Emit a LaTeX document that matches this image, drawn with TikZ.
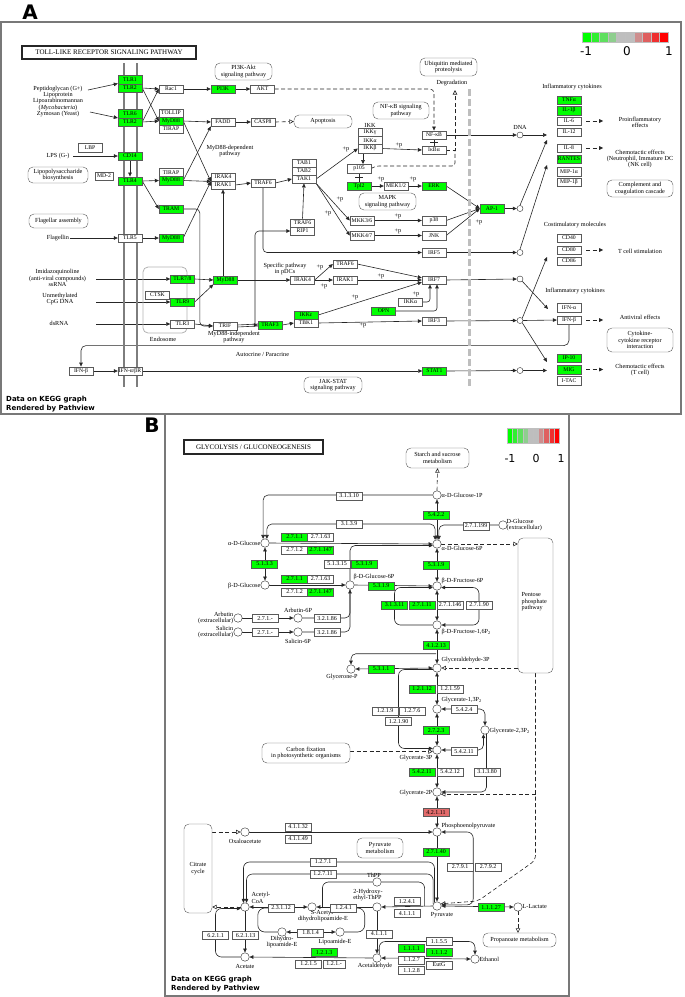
\documentclass[tikz,border=0pt]{standalone}
\usepackage{fontspec}
\setmainfont{Liberation Serif}
\newfontfamily\sansfont{DejaVu Sans}
\usetikzlibrary{arrows.meta,backgrounds,calc}

\definecolor{kgreen}{RGB}{0,255,0}
\definecolor{kred}{RGB}{226,106,106}
\definecolor{kgray}{RGB}{190,190,190}
\definecolor{kmem}{RGB}{125,125,125}
\definecolor{kframe}{RGB}{120,120,120}
\definecolor{kbox}{RGB}{90,90,90}
\colorlet{kg2}{kgreen!75!kgray}
\colorlet{kg3}{kgreen!50!kgray}
\colorlet{kg4}{kgreen!25!kgray}
\colorlet{kr4}{red!25!kgray}
\colorlet{kr3}{red!50!kgray}
\colorlet{kr2}{red!75!kgray}

\newcommand{\fgene}{\fontsize{5.7}{6.2}\selectfont}
\newcommand{\flab}{\fontsize{6.2}{6.3}\selectfont}
\newcommand{\fec}{\fontsize{6}{6.5}\selectfont}

\tikzstyle{gene}=[draw=kbox, fill=white, minimum width=24pt, minimum height=8.5pt, inner sep=0.3pt, font=\fgene]
\tikzstyle{hit}=[gene, fill=kgreen]
\tikzstyle{ec}=[draw=kbox, fill=white, minimum width=26pt, minimum height=8pt, inner sep=0.3pt, font=\fec]
\tikzstyle{echit}=[ec, fill=kgreen]
\tikzstyle{ecred}=[ec, fill=kred]
\tikzstyle{cpd}=[circle, draw=black!85, fill=white, minimum size=6pt, inner sep=0pt]
\tikzstyle{cpdb}=[cpd, minimum size=8.5pt]
\tikzstyle{pw}=[draw=kbox, fill=white, rounded corners=5pt, align=center, font=\flab, inner sep=1pt]
\tikzstyle{lab}=[font=\flab, align=center, inner sep=0.5pt]
\tikzstyle{plusp}=[font=\flab, inner sep=0pt]
\tikzstyle{maptitle}=[draw=black!85, line width=1.2pt, fill=white, inner sep=0pt, font=\fontsize{7}{8}\selectfont]
\tikzstyle{datatxt}=[font=\sansfont\bfseries\fontsize{7}{8.5}\selectfont, align=left, anchor=north west, inner sep=0pt]
\tikzstyle{tag}=[font=\sansfont\bfseries\fontsize{20}{20}\selectfont, inner sep=0pt]
\tikzstyle{ln}=[draw=black!85, line width=0.6pt]
\tikzstyle{dashln}=[ln, dash pattern=on 4pt off 2.5pt]
\tikzstyle{ar}=[ln, -{Triangle[length=4pt,width=3.6pt]}]
\tikzstyle{arr2}=[ln, {Triangle[length=4pt,width=3.6pt]}-{Triangle[length=4pt,width=3.6pt]}]
\tikzstyle{dashar}=[dashln, -{Triangle[length=4pt,width=3.6pt]}]
\tikzstyle{openar}=[dashln, -{Triangle[open,length=4.5pt,width=4.5pt]}]

\begin{document}
\begin{tikzpicture}[x=1pt,y=-1pt]
\useasboundingbox (0,0) rectangle (685,997);

% panel A
\node[tag] (tagA) at (30,12) {A};
\draw[kframe, line width=1.3pt] (1,22) rectangle (681,414);
\node[maptitle, minimum width=174pt, minimum height=13pt] (titleA) at (109,52.5) {TOLL-LIKE RECEPTOR SIGNALING PATHWAY};
\foreach \col [count=\i from 0] in {kgreen,kg2,kg3,kg4,kgray,kgray,kr4,kr3,kr2,red}
  \filldraw[fill=\col, draw=white!75!black, line width=0.2pt] (582+8.6*\i,32) rectangle ++(8.6,10);
\node[font=\sansfont\fontsize{12}{12}\selectfont] (legAa) at (586,51) {-1};
\node[font=\sansfont\fontsize{12}{12}\selectfont] (legAb) at (627,51) {0};
\node[font=\sansfont\fontsize{12}{12}\selectfont] (legAc) at (669,51) {1};

\draw[kmem, line width=2.2pt] (124,63) -- (124,387);
\draw[kmem, line width=2.2pt] (137,63) -- (137,387);
\draw[kgray, line width=3pt, dash pattern=on 7pt off 3pt] (469,89) -- (469,387);
\draw[gray!60, rounded corners=5pt, line width=0.8pt] (143,267) rectangle (187,333);

\node[lab] (ligA) at (58,101.5) {Peptidoglycan (G+)\\Lipoprotein\\Lipoarabinomannan\\(\textit{Mycobacteria})\\Zymosan (Yeast)};
\coordinate (lig1) at (88,90);
\coordinate (lig2) at (90,112);
\node[gene] (lbp) at (90,147.5) {LBP};
\node[lab] (lps) at (58,156) {LPS (G-)};
\coordinate (lpsend) at (73,156);
\node[pw, minimum width=60pt, minimum height=16pt] (lpsbio) at (58,175) {Lipopolysaccharide\\biosynthesis};
\node[gene, minimum width=18pt] (md2) at (104,176) {MD-2};
\node[pw, minimum width=59pt, minimum height=14pt] (flagpw) at (58.5,221) {Flagellar assembly};
\node[lab] (flagellin) at (58,238) {Flagellin};
\node[lab] (imid) at (57.5,278) {Imidazoquinoline\\(anti-viral compounds)\\ssRNA};
\node[lab] (cpg) at (60,299) {Unmethylated\\CpG DNA};
\node[lab] (dsrna) at (59,323) {dsRNA};
\coordinate (imidend) at (96,279);
\coordinate (cpgend) at (96,302);
\coordinate (dsend) at (96,324);

\node[hit] (tlr1) at (130,79.5) {TLR1};
\node[hit] (tlr2a) at (130,88) {TLR2};
\node[hit] (tlr6) at (130,113.5) {TLR6};
\node[hit] (tlr2b) at (130,122) {TLR2};
\node[hit] (cd14) at (130,156) {CD14};
\node[hit] (tlr4) at (130,181) {TLR4};
\node[gene] (tlr5) at (130,238) {TLR5};
\node[gene] (ifnar) at (130,371) {IFN-α/βR};
\node[gene] (ifnb1) at (81,371) {IFN-β};

\node[gene] (rac1) at (171,89) {Rac1};
\node[gene] (tollip) at (171,113) {TOLLIP};
\node[hit] (myd88a) at (171,121) {MyD88};
\node[gene] (tirapa) at (171,129) {TIRAP};
\node[gene] (tirapb) at (171,172.5) {TIRAP};
\node[hit] (myd88b) at (171,180.5) {MyD88};
\node[hit] (tram) at (171,209) {TRAM};
\node[hit] (myd88c) at (171,238) {MyD88};
\node[hit] (pi3k) at (223,89) {PI3K};
\node[gene] (akt) at (262.5,89) {AKT};
\node[gene] (fadd) at (223,122) {FADD};
\node[gene] (casp8) at (263,122) {CASP8};
\node[pw, minimum width=57pt, minimum height=17pt] (pi3kpw) at (243.5,71.5) {PI3K-Akt\\signaling pathway};
\node[pw, minimum width=58pt, minimum height=13pt] (apop) at (323,121.5) {Apoptosis};
\node[lab] (mydep) at (230,151) {MyD88-dependent\\pathway};
\node[gene] (irak4a) at (223,177) {IRAK4};
\node[gene] (irak1a) at (223,185) {IRAK1};
\node[gene] (traf6a) at (263,183) {TRAF6};
\node[gene] (tab1) at (304,163) {TAB1};
\node[gene] (tab2) at (304,171) {TAB2};
\node[gene] (tak1) at (304,179) {TAK1};
\node[lab] (ikklab) at (370,125) {IKK};
\node[gene] (ikkg) at (370,132.5) {IKKγ};
\node[gene] (ikka) at (370,140.5) {IKKα};
\node[gene] (ikkb) at (370,148.5) {IKKβ};
\node[pw, minimum width=56pt, minimum height=17pt] (nfkbpw) at (401,110.5) {NF-κB signaling\\pathway};
\node[pw, minimum width=57pt, minimum height=18pt] (ubiq) at (448.5,67) {Ubiquitin mediated\\proteolysis};
\node[lab] (degr) at (452,83) {Degradation};
\coordinate (degtop) at (455,90);
\node[gene] (nfkb) at (434,135) {NF-κB};
\node[gene] (ikba) at (434,150) {IκBα};
\node[gene] (p105) at (359,168.5) {p105};
\node[hit] (tpl2) at (359,186) {Tpl2};
\node[gene] (mek) at (396,186) {MEK1/2};
\node[hit] (erk) at (434,186) {ERK};
\node[pw, minimum width=57pt, minimum height=17pt] (mapkpw) at (387.5,201.5) {MAPK\\signaling pathway};
\node[gene] (mkk36) at (362,220.5) {MKK3/6};
\node[gene] (mkk47) at (362,235.5) {MKK4/7};
\node[gene] (p38) at (434,220.5) {p38};
\node[gene] (jnk) at (434,235.5) {JNK};
\node[hit] (ap1) at (492,208.5) {AP-1};
\node[gene] (irf5) at (434,252.5) {IRF5};
\node[gene] (traf6b) at (302.5,223) {TRAF6};
\node[gene] (rip1) at (302.5,231) {RIP1};
\node[lab] (pdc) at (285,269) {Specific pathway\\in pDCs};
\node[gene] (irak4b) at (302.5,280) {IRAK4};
\node[gene] (traf6c) at (345,264) {TRAF6};
\node[gene] (irak1b) at (345,280) {IRAK1};
\node[gene] (irf7) at (434,280) {IRF7};
\node[gene] (ikka2) at (410.5,302) {IKKα};
\node[hit] (opn) at (383.5,311) {OPN};
\node[hit] (ikke) at (306,315) {IKKε};
\node[gene] (tbk1) at (306,323) {TBK1};
\node[hit] (traf3) at (270,325) {TRAF3};
\node[gene] (irf3) at (434,321) {IRF3};
\node[gene] (trif) at (225,326) {TRIF};
\coordinate (trifup) at (255,326);
\node[lab] (myind) at (234,337) {MyD88-independent\\pathway};
\node[hit] (myd88d) at (225.5,280) {MyD88};
\node[lab] (endo) at (163,339) {Endosome};
\node[hit] (tlr78) at (182.5,279) {TLR7/8};
\node[gene] (ctsk) at (157.5,295) {CTSK};
\node[hit] (tlr9) at (182.5,302) {TLR9};
\node[gene] (tlr3) at (182.5,324) {TLR3};
\node[hit] (stat1) at (434.5,371) {STAT1};
\node[lab] (autocr) at (262.5,354) {Autocrine / Paracrine};
\node[pw, minimum width=58pt, minimum height=16pt] (jakstat) at (333,385) {JAK-STAT\\signaling pathway};

\node[lab] (infcyt1) at (572,87) {Inflammatory cytokines};
\node[hit] (tnfa) at (569,100) {TNFα};
\node[hit] (il1b) at (569,110.5) {IL-1β};
\node[gene] (il6) at (569,121) {IL-6};
\node[gene] (il12) at (569,132) {IL-12};
\node[gene] (il8) at (569,148) {IL-8};
\node[hit] (rantes) at (569,159) {RANTES};
\node[gene] (mip1a) at (569,171.5) {MIP-1α};
\node[gene] (mip1b) at (569,182) {MIP-1β};
\node[lab] (proinf) at (640,122) {Proinflammatory\\effects};
\node[lab] (chemo1) at (640,159) {Chemotactic effects\\(Neutrophil, Immature DC\\(NK cell)};
\node[pw, minimum width=66pt, minimum height=17pt] (compl) at (640,188.5) {Complement and\\coagulation cascade};
\node[lab] (costim) at (575,225) {Costimulatory molecules};
\node[gene] (cd40) at (569,238) {CD40};
\node[gene] (cd80) at (569,250) {CD80};
\node[gene] (cd86) at (569,261) {CD86};
\node[lab] (tcell) at (640,251) {T cell stimulation};
\node[lab] (infcyt2) at (575,291) {Inflammatory cytokines};
\node[gene] (ifna) at (569,307.5) {IFN-α};
\node[gene] (ifnb2) at (569,320) {IFN-β};
\node[lab] (antiv) at (640,317) {Antiviral effects};
\node[pw, minimum width=66pt, minimum height=24pt] (cytok) at (640,340) {Cytokine-\\cytokine receptor\\interaction};
\node[hit] (ip10) at (569,358) {IP-10};
\node[hit] (mig) at (569,369.5) {MIG};
\node[gene] (itac) at (569,380.5) {I-TAC};
\node[lab] (chemo2) at (640,370) {Chemotactic effects\\(T cell)};
\node[lab] (dnalab) at (520,127) {DNA};
\node[cpd] (cdna) at (520,135) {};
\node[cpd] (cap1) at (520,208.5) {};
\node[cpd] (cirf5) at (520,252.5) {};
\node[cpd] (cirf7) at (520,279) {};
\node[cpd] (cirf3) at (520,320.5) {};
\node[cpd] (cstat) at (520,370.5) {};
\coordinate (tgt1) at (547,135);
\coordinate (tgt2) at (547,140);
\coordinate (tgt3) at (547,165);
\coordinate (tgt4) at (547,257);
\coordinate (tgt5) at (548,309);
\coordinate (tgt6) at (547,362);
\coordinate (tgt7) at (547,370.5);

\node[plusp] (pp1) at (346,149) {+p};
\node[plusp] (pp2) at (399,145) {+p};
\node[plusp] (pp3) at (381,179) {+p};
\node[plusp] (pp4) at (413,179) {+p};
\node[plusp] (pp5) at (340,199) {+p};
\node[plusp] (pp6) at (328,213) {+p};
\node[plusp] (pp7) at (398,216) {+p};
\node[plusp] (pp8) at (398,231) {+p};
\node[plusp] (pp9) at (479,222) {+p};
\node[plusp] (pp10) at (320,267) {+p};
\node[plusp] (pp11) at (324,286) {+p};
\node[plusp] (pp12) at (381,276) {+p};
\node[plusp] (pp13) at (416,294) {+p};
\node[plusp] (pp14) at (355,297) {+p};
\node[plusp] (pp15) at (363,325) {+p};
\node[datatxt] (dataA) at (6,396) {Data on KEGG graph\\Rendered by Pathview};

\begin{scope}[on background layer]
\draw[ar] (lig1) -- (tlr2a.north west);
\draw[ar] (lig2) -- (tlr6.south west);
\draw[ar] (lpsend) -- (cd14.west);
\draw[ar] (cd14.south) -- (tlr4.north);
\draw[ar] (flagellin.east) -- (tlr5.west);
\draw[ar] (imidend) -- (tlr78.west);
\draw[ar] (cpgend) -- (tlr9.west);
\draw[ar] (dsend) -- (tlr3.west);
\draw[ar] (tlr2a.east) -- (rac1.west);
\draw[ar] (tlr2a.east) -- (myd88a.west);
\draw[ar] (tlr2b.east) -- (rac1.west);
\draw[ar] (tlr2b.east) -- (myd88a.west);
\draw[ar] (tlr4.east) -- (myd88b.west);
\draw[ar] (tlr4.east) -- (tram.west);
\draw[ar] (tlr5.east) -- (myd88c.west);
\draw[ar] (rac1.east) -- (pi3k.west);
\draw[ar] (pi3k.east) -- (akt.west);
\draw[dashar, rounded corners=4] (akt.east) -| (nfkb.north);
\draw[ar] (myd88a.east) -- (fadd.west);
\draw[ar] (fadd.east) -- (casp8.west);
\draw[openar] (casp8.east) -- (apop.west);
\draw[ar] (myd88a.east) -- (irak4a.south west);
\draw[ar] (myd88b.east) -- (fadd.south west);
\draw[ar] (myd88b.east) -- (irak4a.south west);
\draw[ar] (myd88c.east) -- (irak4a.south west);
\draw[ar] (irak1a.east) -- (traf6a.west);
\draw[ar] (traf6a.east) -- (tak1.west);
\draw[ar] (tak1.east) -- (ikkb.west);
\draw[ar] (tak1.south east) -- (mkk36.west);
\draw[ar] (tak1.south east) -- (mkk47.west);
\draw[ar] (mkk36.east) -- (p38.west);
\draw[ar] (mkk47.east) -- (jnk.west);
\draw[ar] (ikkb.east) -- (ikba.west);
\draw[ar] ([xshift=-7]ikkb.south) -- ([xshift=4]p105.north);
\draw[ln] (p105.south) -- (tpl2.north);
\draw[ln] ($(p105.south)!0.5!(tpl2.north)+(-4,0)$) -- ++(8,0);
\draw[ln] (nfkb.south) -- (ikba.north);
\draw[ln] ($(nfkb.south)!0.5!(ikba.north)+(-4,0)$) -- ++(8,0);
\draw[ar] (tpl2.east) -- (mek.west);
\draw[ar] (mek.east) -- (erk.west);
\draw[dashln, rounded corners=3] (p105.east) -- (376,166) -- (455,166) -- (455,150);
\draw[openar] (ikba.east) -| (degtop);
\draw[ar] (traf6b.north) -- (tak1.south);
\draw[ar, rounded corners=4] (traf6a.south) |- (irf5.west);
\draw[ln] ([yshift=1]trif.east) -- ([yshift=1]traf3.west);
\draw[ln] ([yshift=-1]trif.east) -- ([yshift=-1]traf3.west);
\draw[ar] ([xshift=-4]traf3.west) -- (traf3.west);
\draw[ar, rounded corners=4] (trifup) |- (rip1.west);
\draw[ar] (traf3.east) -- (tbk1.west);
\draw[ar] (myd88d.east) -- (irak4b.west);
\draw[ar] (irak1a.south |- myd88d.east) -- (irak1a.south);
\draw[ar] (tlr78.east) -- (myd88d.west);
\draw[ar] (tlr9.east) -- (myd88d.south west);
\draw[ar] (tlr3.east) -- (trif.west);
\draw[ar, rounded corners=4] (tram.east) -| ([xshift=-13]trif.west) -- (trif.west);
\draw[ar] (irak4b.east) -- (traf6c.west);
\draw[ar] (irak4b.east) -- (irak1b.west);
\draw[ar] (traf6c.east) -- (irf7.170);
\draw[ar] (irak1b.east) -- (irf7.west);
\draw[ar] (ikke.east) -- (irf7.190);
\draw[ar, rounded corners=3] (ikka2.east) -| ([xshift=-4]irf7.south);
\draw[ar, rounded corners=3] (opn.east) -| ([xshift=3]irf7.south);
\draw[ar] (tbk1.east) -- (irf3.west);
\draw[ar] (nfkb.east) -- (cdna.west);
\draw[ar] (cdna.east) -- (tgt1);
\draw[ar] (erk.east) -- (ap1.west);
\draw[ar] (p38.east) -- (ap1.west);
\draw[ar] (jnk.east) -- (ap1.west);
\draw[ar] (ap1.east) -- (cap1.west);
\draw[ar] (cap1.north) -- (tgt2);
\draw[ar] (irf5.east) -- (cirf5.west);
\draw[ar] (cirf5.north) -- (tgt3);
\draw[ar] (irf7.east) -- (cirf7.west);
\draw[ar] (cirf7.south east) -- (tgt5);
\draw[ar] (irf3.east) -- (cirf3.west);
\draw[ar] (cirf3.east) -- (ifnb2.west);
\draw[ar] (cirf3.north east) -- (tgt4);
\draw[ar] (cirf3.south east) -- (tgt6);
\draw[ar] (stat1.east) -- (cstat.west);
\draw[ar] (cstat.east) -- (tgt7);
\draw[ar] (ifnb1.east) -- (ifnar.west);
\draw[ar] (ifnar.east) -- (stat1.west);
\draw[ar, rounded corners=5] (ifnb2.south) |- ([yshift=21]ifnb1.north) -- (ifnb1.north);
\draw[dashar] ([xshift=5]il6.east) -- ([xshift=22]il6.east);
\draw[dashar] ([xshift=5]il8.east) -- ([xshift=22]il8.east);
\draw[dashar] ([xshift=5]cd80.east) -- ([xshift=22]cd80.east);
\draw[dashar] ([xshift=5]ifnb2.east) -- ([xshift=22]ifnb2.east);
\draw[dashar] ([xshift=5]mig.east) -- ([xshift=22]mig.east);
\end{scope}

% panel B
\node[tag] (tagB) at (152,425) {B};
\draw[kframe, line width=1.3pt] (165,414) rectangle (569,996);
\node[maptitle, minimum width=139pt, minimum height=14pt] (titleB) at (253.5,447) {GLYCOLYSIS / GLUCONEOGENESIS};
\foreach \col [count=\i from 0] in {kgreen,kg2,kg3,kg4,kgray,kgray,kr4,kr3,kr2,red}
  \filldraw[fill=\col, draw=white!75!black, line width=0.2pt] (507+5.2*\i,428) rectangle ++(5.2,15);
\node[font=\sansfont\fontsize{11}{11}\selectfont] (legBa) at (510,458) {-1};
\node[font=\sansfont\fontsize{11}{11}\selectfont] (legBb) at (536,458) {0};
\node[font=\sansfont\fontsize{11}{11}\selectfont] (legBc) at (561,458) {1};

\node[pw, minimum width=63pt, minimum height=20pt] (starch) at (437.5,458) {Starch and sucrose\\metabolism};
\node[cpdb] (g1p) at (437,495) {};
\node[lab, anchor=west] (tg1p) at (441,495.5) {α-D-Glucose-1P};
\node[echit] (e5422) at (436,515) {5.4.2.2};
\node[ec] (e31310) at (349,496) {3.1.3.10};
\node[ec] (e3139) at (349,524) {3.1.3.9};
\node[cpdb] (g6p) at (437,544) {};
\node[lab, anchor=west] (tg6p) at (441,548) {α-D-Glucose-6P};
\node[ec] (e271199) at (476,526) {2.7.1.199};
\node[cpdb] (dglc) at (503,525) {};
\node[lab, anchor=west, align=left] (tdglc) at (506,525) {D-Glucose\\(extracellular)};
\node[pw, minimum width=35pt, minimum height=135pt] (pentose) at (535.5,605.5) {};
\node[lab, anchor=north west, align=left] (tpent) at (521,592) {Pentose\\phosphate\\pathway};
\node[cpdb] (aglc) at (265,543) {};
\node[lab, anchor=east] (taglc) at (261,543) {α-D-Glucose};
\node[echit] (e2711a) at (294.5,537) {2.7.1.1};
\node[ec] (e27163a) at (320.5,537) {2.7.1.63};
\node[ec] (e2712a) at (294.5,550) {2.7.1.2};
\node[echit] (e271147a) at (320.5,550) {2.7.1.147};
\node[echit] (e5133) at (264.5,564) {5.1.3.3};
\node[cpdb] (bglc) at (265,585) {};
\node[lab, anchor=east] (tbglc) at (261,586) {β-D-Glucose};
\node[echit] (e2711b) at (294.5,579) {2.7.1.1};
\node[ec] (e27163b) at (320.5,579) {2.7.1.63};
\node[ec] (e2712b) at (294.5,592) {2.7.1.2};
\node[echit] (e271147b) at (320.5,592) {2.7.1.147};
\node[ec] (e51315) at (337,564) {5.1.3.15};
\node[echit] (e5319a) at (364,564) {5.3.1.9};
\node[cpdb] (bg6p) at (350,585) {};
\node[lab, anchor=west] (tbg6p) at (353,577) {β-D-Glucose-6P};
\node[echit] (e5319b) at (381,586) {5.3.1.9};
\node[echit] (e5319c) at (436,565) {5.3.1.9};
\node[cpdb] (bf6p) at (437,586) {};
\node[lab, anchor=west] (tbf6p) at (441,581) {β-D-Fructose-6P};
\node[cpdb] (arb) at (238,618) {};
\node[lab, anchor=east, align=right] (tarb) at (234,618) {Arbutin\\(extracellular)};
\node[ec] (e271xa) at (265,618.5) {2.7.1.-};
\node[cpdb] (arb6p) at (298,618) {};
\node[lab] (tarb6p) at (298,610) {Arbutin-6P};
\node[ec] (e32186a) at (327,618.5) {3.2.1.86};
\node[cpdb] (sal) at (238,632) {};
\node[lab, anchor=east, align=right] (tsal) at (234,632) {Salicin\\(extracellular)};
\node[ec] (e271xb) at (265,632.5) {2.7.1.-};
\node[cpdb] (sal6p) at (298,632) {};
\node[lab] (tsal6p) at (298,641) {Salicin-6P};
\node[ec] (e32186b) at (327,632.5) {3.2.1.86};
\node[echit] (e31311) at (394.5,605) {3.1.3.11};
\node[echit] (e27111) at (422,605) {2.7.1.11};
\node[ec] (e271146) at (450,605) {2.7.1.146};
\node[ec] (e27190) at (479,605) {2.7.1.90};
\node[cpdb] (fbp) at (437,625) {};
\node[lab, anchor=west] (tfbp) at (441,632) {β-D-Fructose-1,6P\textsubscript{2}};
\node[echit] (e41213) at (436,645.5) {4.1.2.13};
\node[cpdb] (gap) at (437,668) {};
\node[lab, anchor=west] (tgap) at (441,660) {Glyceraldehyde-3P};
\node[cpdb] (dhap) at (351,669) {};
\node[lab] (tdhap) at (342,677) {Glycerone-P};
\node[echit] (e5311) at (381,669) {5.3.1.1};
\node[echit] (e12112) at (422,689) {1.2.1.12};
\node[ec] (e12159) at (450,689) {1.2.1.59};
\node[ec] (e1219) at (385,711) {1.2.1.9};
\node[ec] (e1276) at (412,711) {1.2.7.6};
\node[ec] (e12190) at (398.5,721.5) {1.2.1.90};
\node[cpdb] (bpg13) at (437,709) {};
\node[lab, anchor=west] (tbpg13) at (441,700) {Glycerate-1,3P\textsubscript{2}};
\node[ec] (e5424) at (464,709.5) {5.4.2.4};
\node[cpdb] (bpg23) at (485,730) {};
\node[lab, anchor=west] (tbpg23) at (489,731) {Glycerate-2,3P\textsubscript{2}};
\node[echit] (e2723) at (436,730.5) {2.7.2.3};
\node[cpdb] (pg3) at (437,750) {};
\node[lab, anchor=east] (tpg3) at (433,758) {Glycerate-3P};
\node[ec] (e54211a) at (464,751.5) {5.4.2.11};
\node[pw, minimum width=88pt, minimum height=20pt] (carbon) at (306,753) {Carbon fixation\\in photosynthetic organisms};
\node[echit] (e54211b) at (422,772) {5.4.2.11};
\node[ec] (e54212) at (450,772) {5.4.2.12};
\node[ec] (e31380) at (487,772) {3.1.3.80};
\node[cpdb] (pg2) at (437,792) {};
\node[lab, anchor=east] (tpg2) at (433,793) {Glycerate-2P};
\node[ecred] (e42111) at (436,812.5) {4.2.1.11};
\node[cpdb] (pep) at (437,832) {};
\node[lab, anchor=west] (tpep) at (441,826) {Phosphoenolpyruvate};
\node[echit] (e27140) at (436,852) {2.7.1.40};
\node[ec] (e2791) at (460,867) {2.7.9.1};
\node[ec] (e2792) at (488,867) {2.7.9.2};
\node[cpdb] (pyr) at (437,906) {};
\node[lab] (tpyr) at (442,915) {Pyruvate};
\node[echit] (e11127) at (491,907.5) {1.1.1.27};
\node[cpdb] (lac) at (518,907) {};
\node[lab, anchor=west] (tlac) at (522,906) {L-Lactate};
\node[pw, minimum width=73pt, minimum height=14pt] (propan) at (519.5,940) {Propanoate metabolism};
\node[pw, minimum width=28pt, minimum height=89pt] (citrate) at (198,868.5) {Citrate\\cycle};
\node[cpdb] (oaa) at (245,832) {};
\node[lab] (toaa) at (245,841) {Oxaloacetate};
\node[ec] (e41132) at (298,827) {4.1.1.32};
\node[ec] (e41149) at (298,839) {4.1.1.49};
\node[pw, minimum width=46pt, minimum height=20pt] (pyrmet) at (380,848) {Pyruvate\\metabolism};
\node[ec] (e1271) at (323,862) {1.2.7.1};
\node[ec] (e12711) at (323,874) {1.2.7.11};
\node[cpdb] (accoa) at (245,907) {};
\node[lab, anchor=west, align=left] (taccoa) at (251,898) {Acetyl-\\CoA};
\node[ec] (e23112) at (281,908) {2.3.1.12};
\node[cpdb] (sacet) at (312,907) {};
\node[lab] (tsacet) at (323,916) {S-Acetyl-\\dihydrolipoamide-E};
\node[ec] (e1241a) at (343.5,908) {1.2.4.1};
\node[cpdb] (hethpp) at (377,907) {};
\node[lab, align=left] (theth) at (368,895) {2-Hydroxy-\\ethyl-ThPP};
\node[cpdb] (thpp) at (377,882) {};
\node[lab] (tthpp) at (374,875) {ThPP};
\node[ec] (e1241b) at (407,901.5) {1.2.4.1};
\node[ec] (e4111a) at (407,913.5) {4.1.1.1};
\node[cpdb] (dihyd) at (282,932) {};
\node[lab] (tdihyd) at (282,942) {Dihydro-\\lipoamide-E};
\node[ec] (e1814) at (310.5,933) {1.8.1.4};
\node[cpdb] (lipo) at (340,932) {};
\node[lab] (tlipo) at (335,942) {Lipoamide-E};
\node[ec] (e6211) at (215.5,935.5) {6.2.1.1};
\node[ec] (e62113) at (245.5,935.5) {6.2.1.13};
\node[cpdb] (acet) at (245,957) {};
\node[lab] (tacet) at (245,966) {Acetate};
\node[echit] (e1213) at (324,952.5) {1.2.1.3};
\node[ec] (e1215) at (308.5,964) {1.2.1.5};
\node[ec, minimum width=22pt] (e121x) at (334,964) {1.2.1.-};
\node[ec] (e4111b) at (379,934) {4.1.1.1};
\node[cpdb] (acald) at (377,958) {};
\node[lab] (tacald) at (375,966) {Acetaldehyde};
\node[echit] (e1111) at (411.5,948.5) {1.1.1.1};
\node[ec] (e1155) at (439,941.5) {1.1.5.5};
\node[echit] (e1112) at (439,952.5) {1.1.1.2};
\node[ec] (e1127) at (411.5,960) {1.1.2.7};
\node[ec] (eutg) at (439,965) {EutG};
\node[ec] (e1128) at (411.5,970.5) {1.1.2.8};
\node[cpdb] (etoh) at (475,959) {};
\node[lab, anchor=west] (tetoh) at (479,959) {Ethanol};
\node[datatxt] (dataB) at (171,976) {Data on KEGG graph\\Rendered by Pathview};

\begin{scope}[on background layer]
\draw[arr2] (g1p.south) -- (g6p.north);
\draw[openar] (g1p.north) -- (starch.south);
\draw[ar, rounded corners=5] (g1p.west) -| (aglc.115);
\draw[arr2, rounded corners=5] (g6p.115) |- (e3139.east) -- (e3139.west) -| (aglc.65);
\draw[ar, rounded corners=5] (dglc.west) -| (g6p.65);
\draw[openar] (g6p.east) -- (pentose.west |- g6p.east);
\draw[arr2] (g6p.south) -- (bf6p.north);
\draw[ar] (aglc.east) -- (g6p.west);
\draw[arr2] (aglc.south) -- (bglc.north);
\draw[ar] (bglc.east) -- (bg6p.west);
\draw[ar, rounded corners=5] (bg6p.north) |- (g6p.200);
\draw[ar] (bg6p.east) -- (bf6p.west);
\draw[ar] (arb.east) -- (arb6p.west);
\draw[ar, rounded corners=5] (arb6p.east) -| (bg6p.south);
\draw[ar] (sal.east) -- (sal6p.west);
\draw[ln, rounded corners=5] (sal6p.east) -| (bg6p.south);
\draw[arr2] (bf6p.south) -- (fbp.north);
\draw[ar, rounded corners=6] (fbp.west) -| (e31311.center) |- (bf6p.200);
\draw[arr2, rounded corners=6] (bf6p.-20) -| (e27190.center) |- (fbp.east);
\draw[arr2] (fbp.south) -- (gap.north);
\draw[ar, rounded corners=5] ([yshift=-4]e41213.south) -| (dhap.north);
\draw[arr2] (gap.west) -- (dhap.east);
\draw[openar] (pentose.west |- gap.east) -- (gap.east);
\draw[openar, rounded corners=5] (pentose.south) -- ++(0,187) -- (478,901) -- (pyr.30);
\draw[openar] (pentose.south |- pg2.-30) -- (pg2.-30);
\draw[arr2] (gap.south) -- (bpg13.north);
\draw[ar, rounded corners=6] (gap.200) -| (e12190.center) |- (pg3.160);
\draw[arr2] (bpg13.south) -- (pg3.north);
\draw[arr2, rounded corners=5] (bpg13.east) -| (bpg23.north);
\draw[arr2, rounded corners=5] (bpg23.-110) |- (pg3.east);
\draw[ar, rounded corners=5] (bpg23.-70) |- (pg2.east);
\draw[openar] (carbon.east |- pg3.200) -- (pg3.200);
\draw[arr2] (pg3.south) -- (pg2.north);
\draw[arr2] (pg2.south) -- (pep.north);
\draw[ar] (pep.south) -- (pyr.north);
\draw[arr2, rounded corners=6] (pep.east) -| (e2791.east) |- (pyr.15);
\draw[ar] (oaa.east) -- (pep.west);
\draw[openar] (citrate.east |- oaa.west) -- (oaa.west);
\draw[openar] (accoa.west) -- (citrate.east |- accoa.west);
\draw[ar, rounded corners=6] (pyr.125) |- (e1271.center) -| (accoa.110);
\draw[ar, rounded corners=6] (pyr.150) |- (e12711.center) -| (accoa.70);
\draw[arr2] (accoa.east) -- (sacet.west);
\draw[ar] (hethpp.west) -- (sacet.east);
\draw[ar] (pyr.west) -- (hethpp.east);
\draw[arr2] (pyr.east) -- (lac.west);
\draw[openar] (lac.south) -- (lac.south |- propan.north);
\draw[ln, rounded corners=7] (e23112.west) -- ++(-10,0) |- (dihyd.west);
\draw[arr2] (lipo.west) -- (dihyd.east);
\draw[ln, rounded corners=7] (lipo.east) -| ([xshift=8]e1241a.east) -- (e1241a.east);
\draw[ln, rounded corners=6] ([xshift=6]sacet.east) |- (thpp.west);
\draw[ln, rounded corners=6] (thpp.east) -| ([xshift=-8]pyr.west);
\draw[ar] (hethpp.south) -- (acald.north);
\draw[ar] (accoa.south) -- (acet.north);
\draw[ar, rounded corners=6] (acet.west) -| (e6211.center) |- (accoa.200);
\draw[ar] (acald.west) -- (acet.east);
\draw[arr2] (acald.east) -- (etoh.west);
\draw[ar, rounded corners=6] (acald.60) |- (e1155.center) -| (etoh.north);
\end{scope}
\end{tikzpicture}
\end{document}
